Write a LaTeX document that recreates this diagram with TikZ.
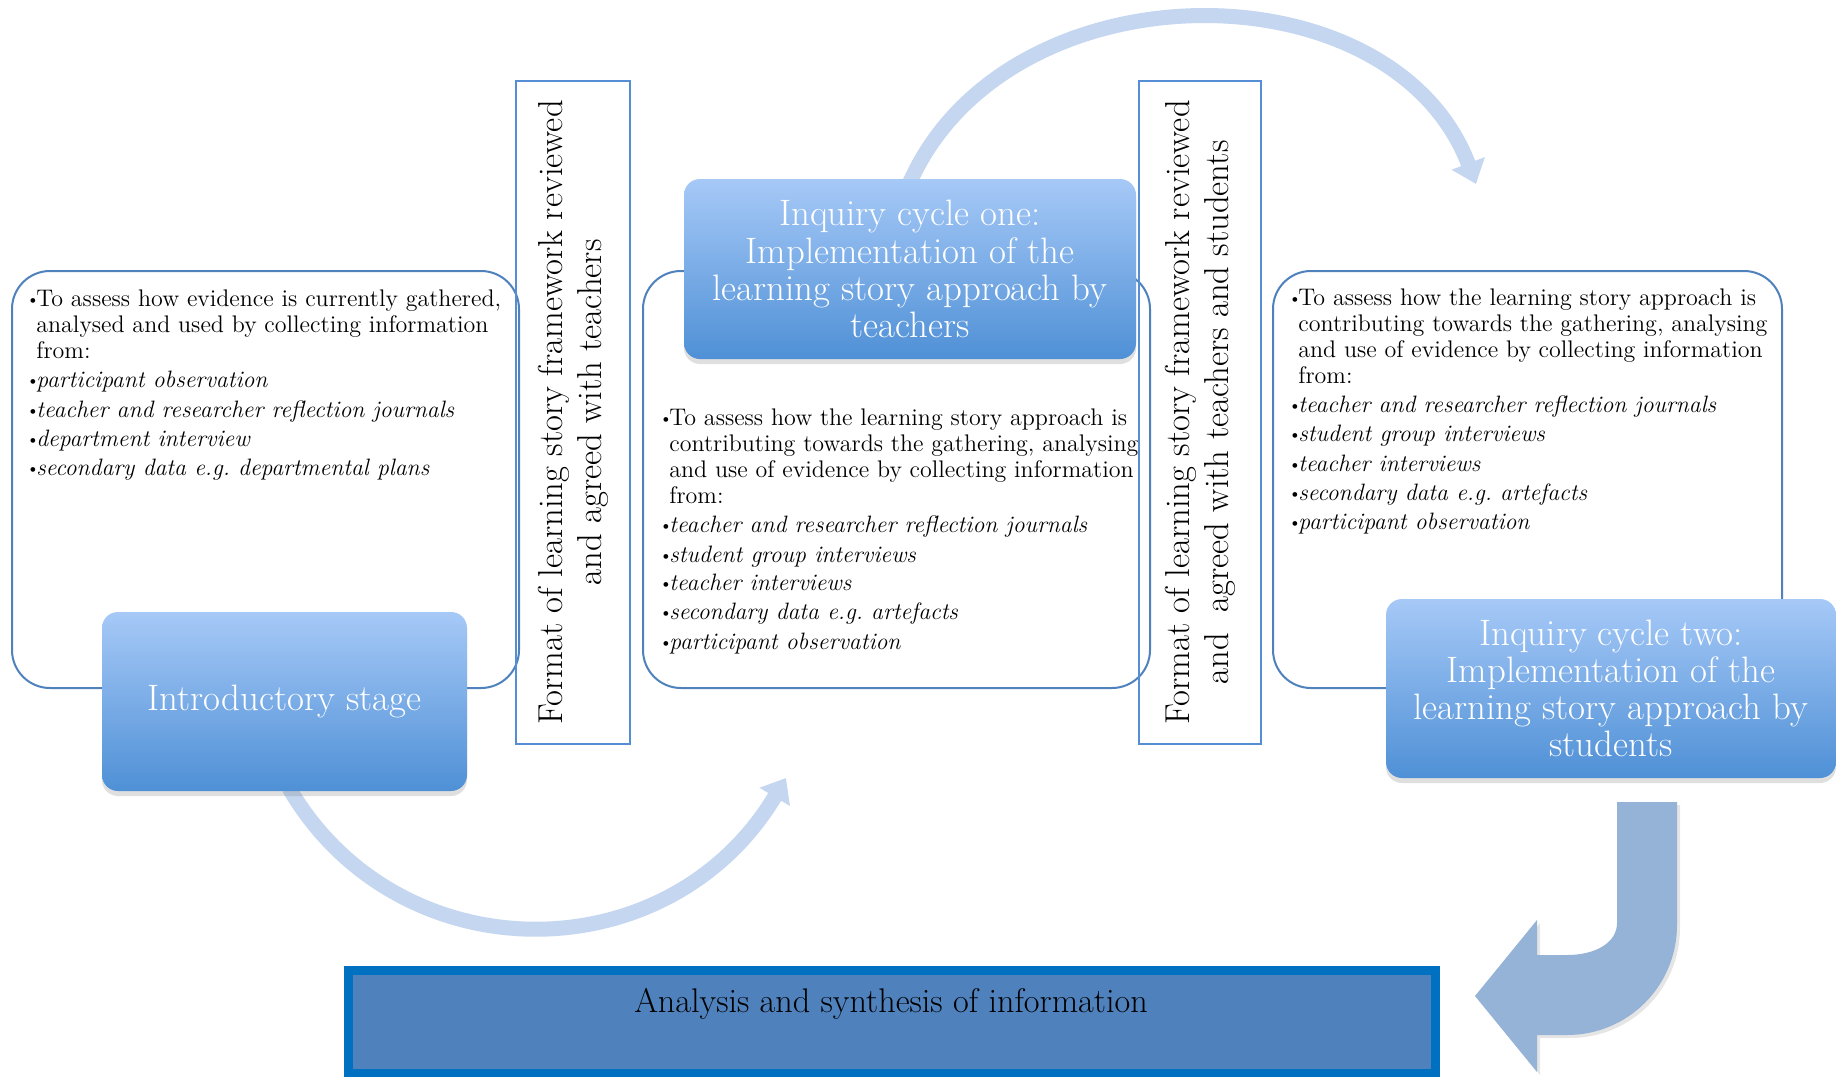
\documentclass[tikz,border=0pt]{standalone}
\usepackage{fontspec}
\usetikzlibrary{shadows,arrows.meta}
\definecolor{boxline}{RGB}{79,129,189}
\definecolor{fmtline}{RGB}{85,142,213}
\definecolor{bluetop}{RGB}{166,201,247}
\definecolor{bluebot}{RGB}{79,144,214}
\definecolor{arcblue}{RGB}{196,214,240}
\definecolor{bentblue}{RGB}{149,179,215}
\definecolor{anfill}{RGB}{79,129,189}
\definecolor{anline}{RGB}{0,112,192}
\newcommand\mybul{\makebox[5pt][l]{\raisebox{1pt}{\fontsize{8}{8}\selectfont\textbullet}}}
\newcommand\myind{\hspace*{5pt}}
\newcommand\myit[1]{{\fontsize{11.85}{13}\selectfont\itshape #1}}
\begin{document}
\begin{tikzpicture}[x=0.5pt,y=-0.5pt,
  whitebox/.style={draw=boxline, line width=1pt, rounded corners=19pt, inner sep=0pt},
  fmtbox/.style={draw=fmtline, line width=0.9pt, rotate=90, inner sep=0pt, align=center, font=\fontsize{17.3}{19.5}\selectfont},
  bluebox/.style={rounded corners=8pt, top color=bluetop, bottom color=bluebot, draw=none, text=white, align=center, inner sep=0pt, font=\fontsize{18.4}{18.6}\selectfont, drop shadow={shadow xshift=0pt, shadow yshift=-2.5pt, opacity=0.25}},
  bodytext/.style={anchor=north west, inner sep=0pt, align=left, font=\fontsize{12}{13}\selectfont},
  arcarrow/.style={line width=7.5pt, draw=arcblue, -{Triangle[width=17pt,length=11pt]}},
]
\useasboundingbox (0,0) rectangle (1836,1076);
\fill[white] (0,0) rectangle (1836,1076);

% white rounded boxes
\node[whitebox, minimum width=253.5pt, minimum height=208.5pt] (w1) at (265.5,479.5) {};
\node[whitebox, minimum width=253.5pt, minimum height=208.5pt] (w2) at (896.5,479.5) {};
\node[whitebox, minimum width=254.5pt, minimum height=208.5pt] (w3) at (1527.5,479.5) {};

% format boxes
\node[fmtbox, minimum width=331.5pt, minimum height=57pt] (f1) at (573,412.5)
  {Format of learning story framework reviewed\\and agreed with teachers};
\node[fmtbox, minimum width=331.5pt, minimum height=61pt] (f2) at (1200,412.5)
  {Format of learning story framework reviewed\\and\ \ agreed with teachers and students};

% body texts
\node[bodytext] (t1) at (26,289) {\mybul To assess how evidence is currently gathered,\\
 \myind analysed and used by collecting information\\
 \myind from:\\[1.5pt]
 \mybul\myit{participant observation}\\[2pt]
 \mybul\myit{teacher and researcher reflection journals}\\[1.5pt]
 \mybul\myit{department interview}\\[1.5pt]
 \mybul\myit{secondary data e.g.\ departmental plans}};
\node[bodytext] (t2) at (659,408) {\mybul To assess how the learning story approach is\\
 \myind contributing towards the gathering, analysing\\
 \myind and use of evidence by collecting information\\
 \myind from:\\[1.5pt]
 \mybul\myit{teacher and researcher reflection journals}\\[2pt]
 \mybul\myit{student group interviews}\\[1pt]
 \mybul\myit{teacher interviews}\\[1.5pt]
 \mybul\myit{secondary data e.g.\ artefacts}\\[2pt]
 \mybul\myit{participant observation}};
\node[bodytext] (t3) at (1288,288) {\mybul To assess how the learning story approach is\\
 \myind contributing towards the gathering, analysing\\
 \myind and use of evidence by collecting information\\
 \myind from:\\[1.5pt]
 \mybul\myit{teacher and researcher reflection journals}\\[1.5pt]
 \mybul\myit{student group interviews}\\[2pt]
 \mybul\myit{teacher interviews}\\[1.5pt]
 \mybul\myit{secondary data e.g.\ artefacts}\\[1.5pt]
 \mybul\myit{participant observation}};

% curved arrows (drawn before the blue boxes)
\coordinate (topend) at (1476,184);
\coordinate (botend) at (786,778);
\coordinate (topstart) at (910,182);
\coordinate (botstart) at (289,788);
\draw[arcarrow] (topstart) .. controls (1008,-37) and (1392,-37) .. (topend);
\draw[arcarrow] (botstart) .. controls (398,975) and (668,975) .. (botend);

% blue boxes
\node[bluebox, minimum width=226pt, minimum height=90pt] (ic1) at (910,269)
  {Inquiry cycle one:\\Implementation of the\\learning story approach by\\teachers};
\node[bluebox, minimum width=182.5pt, minimum height=89.5pt] (intro) at (284.5,701.5)
  {Introductory stage};
\node[bluebox, minimum width=225pt, minimum height=89.5pt] (ic2) at (1611,688.5)
  {Inquiry cycle two:\\Implementation of the\\learning story approach by\\students};

% analysis box
\node[draw=anline, fill=anfill, line width=4.5pt, minimum width=543.5pt, minimum height=51.25pt, inner sep=0pt] (an) at (892,1021.75) {};
\node[font=\fontsize{17.1}{19}\selectfont, inner sep=0pt] (antext) at (891,1004) {Analysis and synthesis of information};

% bent block arrow
\fill[bentblue, drop shadow={shadow xshift=1.5pt, shadow yshift=-1.5pt, opacity=0.2}]
  (1617,802) -- (1617,923) .. controls (1617,943) and (1595,955) .. (1567,955)
  -- (1537,955) -- (1537,920) -- (1475,996) -- (1537,1072) -- (1537,1035)
  -- (1567,1035) .. controls (1628,1035) and (1677,986) .. (1677,925)
  -- (1677,802) -- cycle;
\end{tikzpicture}
\end{document}
